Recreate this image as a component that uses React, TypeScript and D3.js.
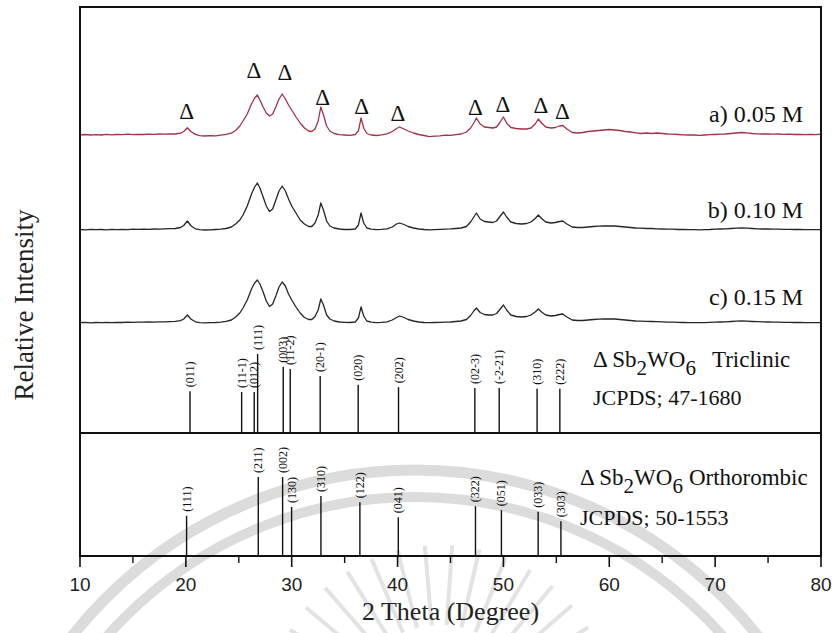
import React from 'react';
import * as d3 from 'd3';

const W = 835;
const H = 633;
const plot = { left: 80, right: 821, top: 7, bottom: 556 };

// 2θ axis ticks
const majorTicks = [10, 20, 30, 40, 50, 60, 70, 80];
const minorTicks = [15, 25, 35, 45, 55, 65, 75];

// Diffraction patterns: [2θ (deg), intensity (a.u.) above each pattern's own baseline]
const pattern005: [number, number][] = [
  [10, 0.2], [10.5, 0.5], [11, 0], [11.5, 0.4], [12, 0], [12.5, 0.6], [13, 0.2], [13.5, 0.5], [14, 0.3], [14.5, 0.8],
  [15, 0.4], [15.5, 0.7], [16, 0.5], [16.5, 0.9], [17, 0.6], [17.5, 1.0], [18, 0.8], [18.5, 1.2], [19, 1.0], [19.5, 1.8],
  [19.8, 3.5], [20.15, 7.3], [20.5, 3.2], [20.9, 0.6], [21.3, -0.6], [21.8, -1], [22.3, -0.7], [22.8, -0.9], [23.3, -0.2],
  [23.8, 0.6], [24.3, 1.8], [24.7, 4.5], [25.1, 9], [25.4, 14], [25.8, 21], [26.2, 31], [26.5, 37], [26.75, 40], [27.0, 35],
  [27.3, 28], [27.6, 22], [27.9, 19], [28.2, 21], [28.5, 28], [28.8, 36], [29.1, 41], [29.4, 36], [29.7, 30], [30.0, 25],
  [30.4, 18], [30.8, 12], [31.2, 7], [31.6, 4], [31.9, 3.5], [32.2, 6], [32.5, 14], [32.75, 28], [33.0, 20], [33.3, 9],
  [33.6, 4], [34, 1.5], [34.5, 0.3], [35, 0], [35.5, -0.3], [36, 0.5], [36.3, 4], [36.55, 17], [36.8, 7], [37.1, 1.5],
  [37.5, 0], [38, -0.5], [38.5, 0.2], [39, 1.2], [39.5, 3.5], [39.9, 6.5], [40.2, 8], [40.6, 6], [41, 4], [41.5, 2],
  [42, 0.5], [42.5, -0.5], [43, -1.6], [43.5, -1.2], [44, -0.8], [44.5, -0.2], [45, -0.4], [45.5, 0.4], [46, 1],
  [46.5, 3], [46.9, 7], [47.2, 12], [47.45, 17], [47.8, 11], [48.2, 8], [48.6, 7.5], [49.0, 7], [49.35, 8], [49.7, 13],
  [50.0, 18], [50.3, 12], [50.7, 7.5], [51.2, 6.5], [51.7, 6], [52.2, 6], [52.6, 7], [53.0, 11], [53.3, 16], [53.6, 12],
  [54.0, 8], [54.5, 7], [54.9, 7.5], [55.3, 9], [55.6, 9.5], [56.0, 6], [56.5, 2.5], [57, 2], [57.5, 2.5], [58, 3.5],
  [58.5, 4], [59, 4.5], [59.5, 5], [60, 5.5], [60.5, 5], [61, 4.5], [61.5, 3.5], [62, 3], [62.5, 2.2], [63, 1.5],
  [63.5, 2], [64, 1.5], [64.5, 2], [65, 1.5], [65.5, 1], [66, 0.8], [66.5, 0.5], [67, 0.2], [67.5, 0], [68, 0],
  [68.5, -0.3], [69, 0], [69.5, 0.3], [70, 0.5], [70.5, 0.8], [71, 1], [71.5, 1.5], [72, 2], [72.5, 2.5], [73, 2.2],
  [73.5, 1.5], [74, 1.2], [74.5, 1], [75, 1.2], [75.5, 0.8], [76, 1], [76.5, 0.6], [77, 0.8], [77.5, 0.5], [78, 0.6],
  [78.5, 0.3], [79, 0.6], [79.5, 0.4], [80, 0.8],
];

const pattern010: [number, number][] = [
  [10, 0.5], [10.5, 0.2], [11, 0.6], [11.5, 0.3], [12, 0.5], [12.5, 0.2], [13, 0.6], [13.5, 0.4], [14, 0.7], [14.5, 0.4],
  [15, 0.8], [15.5, 0.6], [16, 0.9], [16.5, 0.7], [17, 1], [17.5, 0.8], [18, 1.2], [18.5, 1.3], [19, 1.5], [19.5, 2.5],
  [19.8, 4.5], [20.15, 9], [20.5, 4], [20.9, 1.2], [21.3, 0.3], [21.8, 0], [22.3, 0.2], [22.8, 0.5], [23.3, 0.8],
  [23.8, 1.5], [24.3, 3], [24.7, 6], [25.1, 10], [25.4, 15], [25.8, 24], [26.2, 36], [26.5, 43], [26.75, 47], [27.0, 42],
  [27.3, 33], [27.6, 24], [27.9, 18.5], [28.2, 21], [28.5, 30], [28.8, 39], [29.1, 44], [29.4, 39], [29.7, 31],
  [30.0, 24], [30.4, 17], [30.8, 10], [31.2, 6], [31.6, 3.5], [31.9, 3.5], [32.2, 7], [32.5, 15], [32.75, 27], [33.0, 20],
  [33.3, 9], [33.6, 4], [34, 2], [34.5, 1], [35, 0.5], [35.5, 0.5], [36, 1], [36.3, 5], [36.55, 17], [36.8, 7], [37.1, 2],
  [37.5, 0.8], [38, 0.3], [38.5, 0.6], [39, 1.2], [39.5, 3], [39.9, 6], [40.2, 7], [40.6, 5.5], [41, 3.5], [41.5, 2],
  [42, 1], [42.5, 0.5], [43, 0.2], [43.5, 0.4], [44, 0.6], [44.5, 0.9], [45, 1.1], [45.5, 1.5], [46, 2], [46.5, 3.5],
  [46.9, 8], [47.2, 13], [47.45, 17], [47.8, 11], [48.2, 8.5], [48.6, 8], [49.0, 7.5], [49.35, 9], [49.7, 14], [50.0, 18],
  [50.3, 13], [50.7, 8], [51.2, 6.5], [51.7, 6], [52.2, 6.5], [52.6, 8], [53.0, 11.5], [53.3, 15], [53.6, 11.5], [54.0, 8],
  [54.5, 7], [54.9, 7.5], [55.3, 8.5], [55.6, 9], [56.0, 6], [56.5, 3], [57, 2.5], [57.5, 2.5], [58, 3], [58.5, 3.5],
  [59, 3.8], [59.5, 4], [60, 4.2], [60.5, 4], [61, 3.5], [61.5, 3], [62, 2.5], [62.5, 2], [63, 1.8], [63.5, 1.5],
  [64, 1.5], [64.5, 1.2], [65, 1], [65.5, 0.8], [66, 0.8], [66.5, 0.5], [67, 0.5], [67.5, 0.3], [68, 0.3], [68.5, 0.2],
  [69, 0.4], [69.5, 0.5], [70, 0.8], [70.5, 1], [71, 1.2], [71.5, 1.5], [72, 1.8], [72.5, 2], [73, 1.8], [73.5, 1.5],
  [74, 1.2], [74.5, 1], [75, 1], [75.5, 0.8], [76, 0.8], [76.5, 0.6], [77, 0.6], [77.5, 0.5], [78, 0.5], [78.5, 0.4],
  [79, 0.4], [79.5, 0.3], [80, 0.3],
];

const pattern015: [number, number][] = [
  [10, 0.3], [10.5, 0.6], [11, 0.2], [11.5, 0.5], [12, 0.3], [12.5, 0.6], [13, 0.4], [13.5, 0.7], [14, 0.5], [14.5, 0.8],
  [15, 0.6], [15.5, 0.9], [16, 0.8], [16.5, 1], [17, 0.9], [17.5, 1.2], [18, 1.1], [18.5, 1.4], [19, 1.6], [19.5, 2.4],
  [19.8, 4], [20.15, 8], [20.5, 3.8], [20.9, 1.2], [21.3, 0.4], [21.8, 0.1], [22.3, 0.3], [22.8, 0.5], [23.3, 0.9],
  [23.8, 1.6], [24.3, 3], [24.7, 6], [25.1, 10], [25.4, 15], [25.8, 23], [26.2, 34], [26.5, 40], [26.75, 43], [27.0, 39],
  [27.3, 31], [27.6, 22], [27.9, 16.5], [28.2, 19], [28.5, 27], [28.8, 36], [29.1, 41], [29.4, 37], [29.7, 29],
  [30.0, 23], [30.4, 16], [30.8, 10], [31.2, 5.5], [31.6, 3.5], [31.9, 3.5], [32.2, 6.5], [32.5, 13], [32.75, 24],
  [33.0, 18], [33.3, 8], [33.6, 4], [34, 2], [34.5, 1], [35, 0.6], [35.5, 0.5], [36, 1], [36.3, 5], [36.55, 16], [36.8, 7],
  [37.1, 2], [37.5, 0.8], [38, 0.4], [38.5, 0.6], [39, 1.2], [39.5, 3], [39.9, 5.5], [40.2, 7], [40.6, 5.5], [41, 3.5],
  [41.5, 2], [42, 1], [42.5, 0.5], [43, 0.3], [43.5, 0.5], [44, 0.6], [44.5, 0.9], [45, 1], [45.5, 1.5], [46, 2],
  [46.5, 3.5], [46.9, 7.5], [47.2, 12], [47.45, 15], [47.8, 10.5], [48.2, 8.5], [48.6, 8], [49.0, 8], [49.35, 9.5],
  [49.7, 14], [50.0, 18], [50.3, 13], [50.7, 8], [51.2, 6.5], [51.7, 6], [52.2, 6.5], [52.6, 8], [53.0, 11], [53.3, 14],
  [53.6, 11], [54.0, 8], [54.5, 7], [54.9, 7.5], [55.3, 8.5], [55.6, 9], [56.0, 6], [56.5, 3], [57, 2.5], [57.5, 2.5],
  [58, 3], [58.5, 3.5], [59, 3.8], [59.5, 4], [60, 4.2], [60.5, 4], [61, 3.5], [61.5, 3], [62, 2.5], [62.5, 2],
  [63, 1.8], [63.5, 1.6], [64, 1.5], [64.5, 1.3], [65, 1.1], [65.5, 0.9], [66, 0.8], [66.5, 0.6], [67, 0.5], [67.5, 0.4],
  [68, 0.3], [68.5, 0.3], [69, 0.4], [69.5, 0.6], [70, 0.8], [70.5, 1], [71, 1.2], [71.5, 1.5], [72, 1.8], [72.5, 2],
  [73, 1.8], [73.5, 1.5], [74, 1.3], [74.5, 1.1], [75, 1], [75.5, 0.9], [76, 0.8], [76.5, 0.7], [77, 0.6], [77.5, 0.5],
  [78, 0.5], [78.5, 0.4], [79, 0.4], [79.5, 0.3], [80, 0.3],
];

const patternLabels = ['a) 0.05 M', 'b) 0.10 M', 'c) 0.15 M'];
const patternBaselines = [421, 326, 233]; // vertical offset of each stacked pattern (a.u.)
const patternColors = ['#a2324a', '#262626', '#262626'];
const labelLift = [13, 12, 18];

// Peaks flagged with Δ on pattern a): 2θ and marker height above its baseline (a.u.)
const markerTheta = [20.08, 26.43, 29.36, 32.92, 36.6, 40.03, 47.36, 49.94, 53.53, 55.58];
const markerLevel = [24, 65, 63, 38, 29, 22, 28, 31, 30, 24];

// JCPDS 47-1680, Sb2WO6 triclinic
const triclinicTheta = [20.39, 25.27, 26.46, 26.78, 29.2, 29.86, 32.69, 36.28, 40.09, 47.3, 49.6, 53.18, 55.33];
const triclinicHkl = ['(011)', '(11-1)', '(012)', '(111)', '(003)', '(11-2)', '(20-1)', '(020)', '(202)', '(02-3)', '(-2-21)', '(310)', '(222)'];
const triclinicIntensity = [53, 52, 52, 100, 84, 81, 72, 61, 58, 57, 57, 56, 56];

// JCPDS 50-1553, Sb2WO6 orthorhombic
const orthoTheta = [20.07, 26.84, 29.14, 29.99, 32.76, 36.44, 40.07, 47.36, 49.81, 53.28, 55.43];
const orthoHkl = ['(111)', '(211)', '(002)', '(130)', '(310)', '(122)', '(041)', '(322)', '(051)', '(033)', '(303)'];
const orthoIntensity = [51, 100, 100, 62, 76, 68, 49, 63, 58, 56, 44];

const triclinicBase = 123;
const orthoBase = 0;

const SERIF = '"Liberation Serif", "Times New Roman", serif';
const SANS = '"Liberation Sans", Arial, sans-serif';

export default function App() {
  const x = d3.scaleLinear().domain([10, 80]).range([plot.left, plot.right]);
  const y = d3.scaleLinear().domain([0, 549]).range([plot.bottom, plot.top]);
  const stick = d3.scaleLinear().domain([0, 100]).range([0, 79]);

  const patterns = [pattern005, pattern010, pattern015];
  const lineFor = (offset: number) =>
    d3
      .line<[number, number]>()
      .x((d) => x(d[0]))
      .y((d) => y(offset + d[1]))
      .curve(d3.curveLinear);

  // faint emblem watermark behind the plot
  const rayAngles = d3.range(-158, -20, 9);
  const rayCx = 440;
  const rayCy = 720;

  const stickLabel = (key: string, t: number, top: number, text: string) => (
    <text
      key={key}
      transform={`translate(${x(t)},${top - 4}) rotate(-90)`}
      dominantBaseline="central"
      fontFamily={SERIF}
      fontSize={12}
      fill="#111"
    >
      {text}
    </text>
  );

  return (
    <svg
      width={W}
      height={H}
      viewBox={`0 0 ${W} ${H}`}
      style={{ position: 'absolute', left: 0, top: 0, background: '#fff' }}
    >
      <rect x={0} y={0} width={W} height={H} fill="#fff" />
      <g fill="none" stroke="#dcdcdc">
        <circle cx={415} cy={907} r={437} strokeWidth={11} />
        <circle cx={415} cy={907} r={410} strokeWidth={10} />
        {rayAngles.map((a, i) => {
          const r = (a * Math.PI) / 180;
          return (
            <line
              key={i}
              x1={rayCx + Math.cos(r) * 95}
              y1={rayCy + Math.sin(r) * 95}
              x2={rayCx + Math.cos(r) * 175}
              y2={rayCy + Math.sin(r) * 175}
              strokeWidth={4}
              stroke="#e3e3e3"
            />
          );
        })}
      </g>

      {/* XRD patterns */}
      {patterns.map((p, i) => (
        <path
          key={i}
          d={lineFor(patternBaselines[i])(p) || ''}
          fill="none"
          stroke={patternColors[i]}
          strokeWidth={1.3}
          strokeLinejoin="round"
        />
      ))}

      {/* pattern labels */}
      {patternLabels.map((t, i) => (
        <text
          key={t}
          x={803}
          y={y(patternBaselines[i] + labelLift[i])}
          textAnchor="end"
          fontFamily={SERIF}
          fontSize={24}
          fill="#111"
        >
          {t}
        </text>
      ))}

      {/* Δ peak markers */}
      {markerTheta.map((t, i) => (
        <text
          key={i}
          x={x(t)}
          y={y(patternBaselines[0] + markerLevel[i])}
          textAnchor="middle"
          dominantBaseline="central"
          fontFamily={SERIF}
          fontSize={23}
          fill="#111"
        >
          Δ
        </text>
      ))}

      {/* reference sticks: triclinic */}
      {triclinicTheta.map((t, i) => {
        const top = y(triclinicBase + stick(triclinicIntensity[i]));
        return (
          <g key={`t${i}`}>
            <line x1={x(t)} x2={x(t)} y1={y(triclinicBase)} y2={top} stroke="#111" strokeWidth={1.4} />
            {stickLabel(`tl${i}`, t, top, triclinicHkl[i])}
          </g>
        );
      })}

      {/* reference sticks: orthorhombic */}
      {orthoTheta.map((t, i) => {
        const top = y(orthoBase + stick(orthoIntensity[i]));
        return (
          <g key={`o${i}`}>
            <line x1={x(t)} x2={x(t)} y1={y(orthoBase)} y2={top} stroke="#111" strokeWidth={1.4} />
            {stickLabel(`ol${i}`, t, top, orthoHkl[i])}
          </g>
        );
      })}

      {/* phase annotations */}
      <text x={593} y={367} fontFamily={SERIF} fontSize={23} fill="#111">
        Δ Sb<tspan dy={8} fontSize={21}>2</tspan>
        <tspan dy={-8}>WO</tspan>
        <tspan dy={8} fontSize={21}>6</tspan>
        <tspan dy={-8} dx={16}>Triclinic</tspan>
      </text>
      <text x={593} y={405} fontFamily={SERIF} fontSize={22} fill="#111">
        JCPDS; 47-1680
      </text>
      <text x={580} y={485} fontFamily={SERIF} fontSize={23} fill="#111">
        Δ Sb<tspan dy={8} fontSize={21}>2</tspan>
        <tspan dy={-8}>WO</tspan>
        <tspan dy={8} fontSize={21}>6</tspan>
        <tspan dy={-8} dx={6}>Orthorombic</tspan>
      </text>
      <text x={580} y={525} fontFamily={SERIF} fontSize={22} fill="#111">
        JCPDS; 50-1553
      </text>

      {/* frame and panel divider */}
      <rect
        x={plot.left}
        y={plot.top}
        width={plot.right - plot.left}
        height={plot.bottom - plot.top}
        fill="none"
        stroke="#111"
        strokeWidth={2}
      />
      <line x1={plot.left} x2={plot.right} y1={y(triclinicBase)} y2={y(triclinicBase)} stroke="#111" strokeWidth={1.8} />

      {/* x axis */}
      {majorTicks.map((t) => (
        <g key={`M${t}`}>
          <line x1={x(t)} x2={x(t)} y1={plot.bottom} y2={plot.bottom + 11} stroke="#111" strokeWidth={1.6} />
          <text x={x(t)} y={591} textAnchor="middle" fontFamily={SANS} fontSize={19} fill="#222">
            {t}
          </text>
        </g>
      ))}
      {minorTicks.map((t) => (
        <line key={`m${t}`} x1={x(t)} x2={x(t)} y1={plot.bottom} y2={plot.bottom + 7} stroke="#111" strokeWidth={1.4} />
      ))}

      <text x={(plot.left + plot.right) / 2} y={620} textAnchor="middle" fontFamily={SERIF} fontSize={26} fill="#222">
        2 Theta (Degree)
      </text>
      <text
        transform={`translate(33,305) rotate(-90)`}
        textAnchor="middle"
        fontFamily={SERIF}
        fontSize={27}
        fill="#222"
      >
        Relative Intensity
      </text>
    </svg>
  );
}
